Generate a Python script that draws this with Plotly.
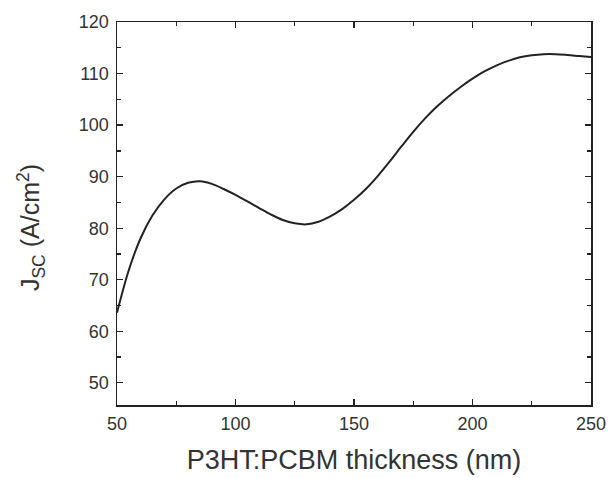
import plotly.graph_objects as go

thickness_nm = [50, 55, 60, 65, 70, 75, 80, 85, 90, 95, 100, 105, 110, 115, 120,
                125, 130, 135, 140, 145, 150, 155, 160, 165, 170, 175, 180, 185,
                190, 195, 200, 205, 210, 215, 220, 225, 230, 235, 240, 245, 250]
jsc = [63.6, 71.9, 78.1, 82.5, 85.6, 87.7, 88.8, 89.1, 88.6, 87.6, 86.45, 85.2,
       83.9, 82.65, 81.6, 80.95, 80.75, 81.25, 82.3, 83.7, 85.5, 87.6, 90.1, 92.9,
       95.85, 98.7, 101.3, 103.6, 105.6, 107.4, 109.0, 110.4, 111.55, 112.45,
       113.15, 113.55, 113.75, 113.75, 113.6, 113.4, 113.2]

x_ticks = [50, 100, 150, 200, 250]
y_ticks = [50, 60, 70, 80, 90, 100, 110, 120]

x_title = "P3HT:PCBM thickness (nm)"
y_title = "J<sub>SC</sub> (A/cm<sup>2</sup>)"

font_family = "Liberation Sans, Arial, sans-serif"
ink = "#222222"
text_color = "#333333"

fig = go.Figure()
fig.add_trace(go.Scatter(
    x=thickness_nm, y=jsc, mode="lines",
    line=dict(color=ink, width=2, shape="spline", smoothing=1.0),
    showlegend=False, hoverinfo="skip",
))

axis_common = dict(
    showline=True, linecolor=ink, linewidth=1.5, mirror="allticks",
    ticks="inside", ticklen=6, tickwidth=1.3, tickcolor=ink,
    showgrid=False, zeroline=False,
    tickfont=dict(family=font_family, size=18, color=text_color),
)

fig.update_xaxes(
    range=[50, 250], tickvals=x_ticks, ticktext=[str(v) for v in x_ticks],
    minor=dict(ticks="inside", dtick=25, tick0=50, ticklen=4, tickwidth=1.3, tickcolor=ink),
    ticklabelstandoff=2,
    title=dict(text=x_title,
               font=dict(family=font_family, size=27, color=text_color), standoff=17),
    **axis_common,
)
fig.update_yaxes(
    range=[45.7, 120], tickvals=y_ticks, ticktext=[str(v) for v in y_ticks],
    minor=dict(ticks="inside", dtick=5, tick0=50, ticklen=4, tickwidth=1.3, tickcolor=ink),
    ticklabelstandoff=3,
    **axis_common,
)

fig.add_annotation(
    text=y_title, textangle=-90, showarrow=False,
    xref="paper", yref="paper", x=-0.1814, y=0.462,
    xanchor="center", yanchor="middle",
    font=dict(family=font_family, size=25, color=text_color),
)

fig.update_layout(
    width=611, height=478,
    margin=dict(l=117, r=20, t=22, b=73, autoexpand=False),
    paper_bgcolor="white", plot_bgcolor="white",
)

fig.write_html(
    "out.html",
    config={"displayModeBar": False, "staticPlot": True},
    post_script="document.body.style.margin='0';document.body.style.overflow='hidden';",
)
